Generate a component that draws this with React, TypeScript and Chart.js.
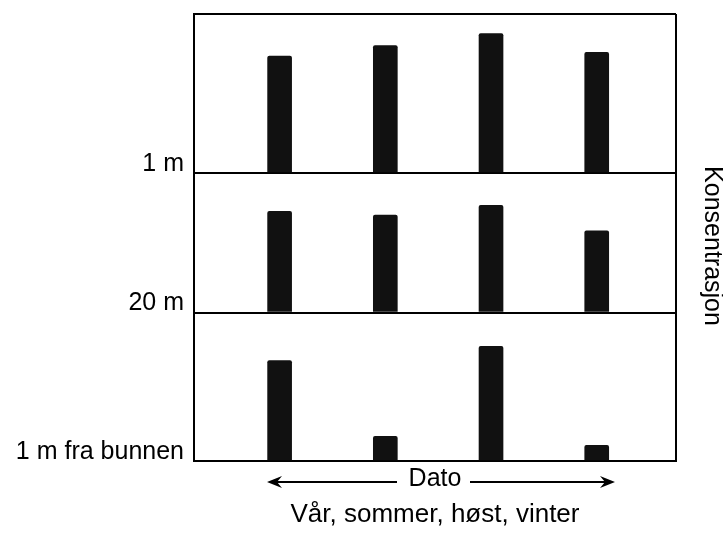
import React, { useEffect, useRef } from "react";
import { Chart, registerables } from "chart.js";

Chart.register(...registerables);

// ---- data ----
const seasonPositions = [1, 2, 3, 4];
const seasons = ["Vår", "sommer", "høst", "vinter"];
const depthLabels = ["1 m", "20 m", "1 m fra bunnen"];
const values1m = [7.8, 8.5, 9.3, 8.05];
const values20m = [6.75, 6.5, 7.15, 5.45];
const valuesBottom = [6.7, 1.65, 7.65, 1.05];
const panelMax = [10.6, 9.3, 9.9];
const xTitle = "Dato";
const xSubtitle = seasons.join(", ");
const yTitle = "Konsentrasjon";

const FONT = "'Liberation Sans', Arial, Helvetica, sans-serif";
const BAR_COLOR = "#111111";

const makeY = (i: number) => ({
  type: "linear",
  position: "left",
  stack: "depth",
  stackWeight: panelMax[i],
  weight: 3 - i,
  min: 0,
  max: panelMax[i],
  afterBuildTicks: (s: any) => {
    s.ticks = i === 0 ? [{ value: 0 }, { value: panelMax[i] }] : [{ value: 0 }];
  },
  afterFit: (s: any) => {
    s.width = 194;
    s.paddingTop = 0;
    s.paddingBottom = 0;
  },
  grid: { color: "#000", lineWidth: 2, drawTicks: false },
  border: { display: true, color: "#000", width: 2 },
  ticks: {
    padding: 10,
    color: "#000",
    autoSkip: false,
    font: { family: FONT, size: 25, lineHeight: 0.72 },
    callback: (v: any) => (v === 0 ? [depthLabels[i], ""] : ""),
  },
});

const decorPlugin = {
  id: "datoArrows",
  afterLayout(chart: any) {
    const s = chart.scales.yr;
    if (s) {
      s.top += 8.5;
      s.bottom += 8.5;
    }
  },
  afterDraw(chart: any) {
    const { ctx, chartArea } = chart;
    const cx = (chartArea.left + chartArea.right) / 2;
    const y = chartArea.bottom + 21;
    ctx.save();
    ctx.strokeStyle = "#000";
    ctx.fillStyle = "#000";
    ctx.lineWidth = 2;
    const arrow = (x0: number, x1: number) => {
      const dir = Math.sign(x1 - x0);
      ctx.beginPath();
      ctx.moveTo(x0, y);
      ctx.lineTo(x1 - dir * 9, y);
      ctx.stroke();
      ctx.beginPath();
      ctx.moveTo(x1, y);
      ctx.lineTo(x1 - dir * 15, y - 6);
      ctx.lineTo(x1 - dir * 10, y);
      ctx.lineTo(x1 - dir * 15, y + 6);
      ctx.closePath();
      ctx.fill();
    };
    arrow(cx - 38, cx - 168);
    arrow(cx + 35, cx + 180);
    ctx.restore();
  },
};

const makeData = (vals: number[]) => seasonPositions.map((x, k) => ({ x, y: vals[k] }));

export default function App() {
  const ref = useRef<HTMLCanvasElement | null>(null);

  useEffect(() => {
    if (!ref.current) return;
    const ds = (label: string, vals: number[], axis: string) => ({
      label,
      data: makeData(vals),
      yAxisID: axis,
      xAxisID: "x",
      backgroundColor: BAR_COLOR,
      borderWidth: 0,
      borderRadius: { topLeft: 2, topRight: 2 },
      barThickness: 24,
      grouped: false,
    });
    const chart = new Chart(ref.current, {
      type: "bar",
      data: {
        datasets: [
          ds(depthLabels[0], values1m, "y1"),
          ds(depthLabels[1], values20m, "y2"),
          ds(depthLabels[2], valuesBottom, "y3"),
        ],
      },
      options: {
        responsive: false,
        animation: false,
        devicePixelRatio: 1,
        layout: { padding: { top: 14, left: 0, right: 0, bottom: 0 } },
        plugins: {
          legend: { display: false },
          tooltip: { enabled: false },
          title: { display: false },
          subtitle: {
            display: true,
            position: "bottom",
            fullSize: false,
            text: xSubtitle,
            color: "#000",
            font: { family: FONT, size: 26, weight: "normal", lineHeight: "28px" },
            padding: { top: 0, bottom: 7 },
          },
        },
        scales: {
          x: {
            type: "linear",
            min: 0.19,
            max: 4.75,
            offset: false,
            afterBuildTicks: (s: any) => {
              s.ticks = [{ value: s.min }, { value: s.max }];
            },
            afterFit: (s: any) => {
              s.height = 40;
              s.paddingLeft = 0;
              s.paddingRight = 0;
            },
            ticks: { display: false },
            grid: { color: "#000", lineWidth: 2, drawTicks: false, offset: false },
            border: { display: true, color: "#000", width: 2 },
            title: {
              display: true,
              text: xTitle,
              color: "#000",
              font: { family: FONT, size: 25, lineHeight: "30px" },
              padding: { top: 0, bottom: 6.5 },
            },
          },
          y1: makeY(0),
          y2: makeY(1),
          y3: makeY(2),
          yr: {
            type: "linear",
            position: "right",
            min: 0,
            max: 1,
            afterFit: (s: any) => {
              s.width = 47;
              s.paddingTop = 0;
              s.paddingBottom = 0;
            },
            ticks: { display: false },
            grid: { display: false },
            border: { display: false },
            title: {
              display: true,
              text: yTitle,
              color: "#000",
              font: { family: FONT, size: 25, lineHeight: 0.88 },
              padding: 0,
            },
          },
        } as any,
      },
      plugins: [decorPlugin],
    } as any);
    return () => chart.destroy();
  }, []);

  return (
    <div style={{ position: "fixed", left: 0, top: 0, width: 723, height: 536, background: "#fff" }}>
      <canvas ref={ref} width={723} height={536} style={{ display: "block" }} />
    </div>
  );
}
